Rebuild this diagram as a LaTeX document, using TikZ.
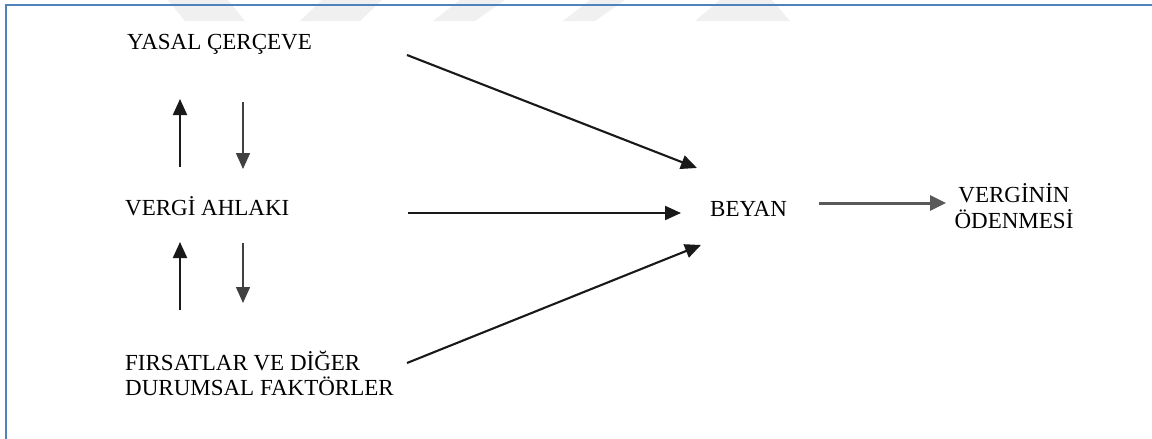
\documentclass[tikz,border=0pt]{standalone}
\usepackage{fontspec}
\setmainfont{Liberation Serif}
\usetikzlibrary{arrows.meta}
\definecolor{frameblue}{HTML}{4F81BD}
\definecolor{wmgray}{HTML}{F0F0F0}
\tikzset{
  lbl/.style={inner sep=0pt, font=\fontsize{23}{26}\selectfont, text=black},
  arr/.style={-{Triangle[length=16pt,width=14pt]}, line width=2.1pt, black!90},
  downarr/.style={-{Triangle[length=16pt,width=14pt]}, line width=1.5pt, black!75},
  thickarr/.style={-{Triangle[length=16pt,width=15pt]}, line width=3pt, black!65},
  wm/.style={fill=wmgray, draw=none}
}
\begin{document}
\begin{tikzpicture}[x=1pt,y=-1pt]
\useasboundingbox (0,0) rectangle (1152,439);
\fill[white] (0,0) rectangle (1152,439);
% watermark (faint, cut off)
\begin{scope}
\clip (0,0) rectangle (1152,21);
\fill[wm] (168,0) -- (228,0) -- (245,21) -- (185,21) -- cycle;
\fill[wm] (322,0) -- (382,0) -- (360,21) -- (300,21) -- cycle;
\fill[wm] (460,0) -- (505,0) -- (475,21) -- (433,21) -- cycle;
\fill[wm] (590,0) -- (625,0) -- (595,21) -- (563,21) -- cycle;
\fill[wm] (720,0) -- (772,0) -- (790,21) -- (695,21) -- cycle;
\end{scope}
% frame
\draw[frameblue, line width=2pt] (6,450) -- (6,5) -- (1160,5);
% nodes
\node[lbl, anchor=base west] (yasal) at (127,49) {YASAL ÇERÇEVE};
\node[lbl, anchor=base west] (ahlak) at (125,215) {VERGİ AHLAKI};
\node[lbl, anchor=base west, align=left] (firsat) at (125,395) {FIRSATLAR VE DİĞER\\[-1pt]DURUMSAL FAKTÖRLER};
\node[lbl, anchor=base west] (beyan) at (710,216) {BEYAN};
\node[lbl, anchor=base, align=center] (odeme) at (1014,228) {VERGİNİN\\ÖDENMESİ};
% arrow end points
\coordinate (yS) at (407,55);   \coordinate (yE) at (697,168);
\coordinate (aS) at (408,213);  \coordinate (aE) at (681,213);
\coordinate (fS) at (407,363);  \coordinate (fE) at (701,245);
\coordinate (bS) at (819,203);  \coordinate (bE) at (946,203);
\coordinate (u1S) at (180,167); \coordinate (u1E) at (180,99);
\coordinate (d1S) at (243,102); \coordinate (d1E) at (243,169);
\coordinate (u2S) at (180,310); \coordinate (u2E) at (180,242);
\coordinate (d2S) at (243,243); \coordinate (d2E) at (243,303);
% connectors
\draw[arr] (yS) -- (yE);
\draw[arr] (aS) -- (aE);
\draw[arr] (fS) -- (fE);
\draw[thickarr] (bS) -- (bE);
\draw[arr] (u1S) -- (u1E);
\draw[downarr] (d1S) -- (d1E);
\draw[arr] (u2S) -- (u2E);
\draw[downarr] (d2S) -- (d2E);
\end{tikzpicture}
\end{document}
